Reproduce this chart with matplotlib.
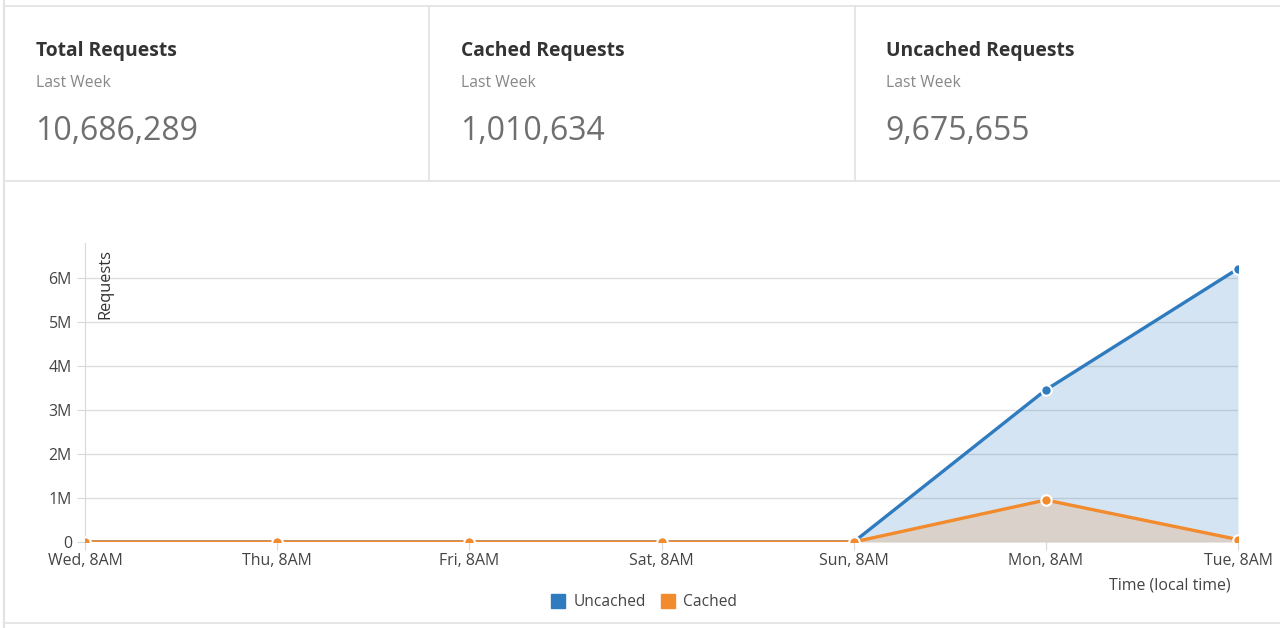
import matplotlib.pyplot as plt
from matplotlib.lines import Line2D
from matplotlib.ticker import FuncFormatter

plt.rcParams['font.family'] = ['Open Sans', 'DejaVu Sans']

# --- data ---
days = ['Wed, 8AM', 'Thu, 8AM', 'Fri, 8AM', 'Sat, 8AM', 'Sun, 8AM', 'Mon, 8AM', 'Tue, 8AM']
uncached = [0, 0, 0, 0, 0, 3460000, 6215000]
cached = [0, 0, 0, 0, 0, 955000, 56000]

card_titles = ['Total Requests', 'Cached Requests', 'Uncached Requests']
card_values = ['10,686,289', '1,010,634', '9,675,655']

blue = '#2f7bbf'
orange = '#f28a2e'
W, H = 1280, 628

fig = plt.figure(figsize=(12.8, 6.28), dpi=100)

def px(x, y):
    return x / W, 1 - y / H

# --- header cards ---
border = '#e2e2e2'
for y in (6, 181, 623):
    fig.add_artist(Line2D([5 / W, 1], [1 - y / H] * 2, color=border, lw=1.2))
fig.add_artist(Line2D([4 / W] * 2, [0, 1], color=border, lw=1.5))
for x in (429, 855):
    fig.add_artist(Line2D([x / W] * 2, [1 - 6 / H, 1 - 181 / H], color=border, lw=1.2))

for i, (t, v) in enumerate(zip(card_titles, card_values)):
    x0 = 36 + i * 425
    fig.text(*px(x0, 51), t, fontsize=13.9, fontweight='bold', color='#333333', va='center')
    fig.text(*px(x0, 83), 'Last Week', fontsize=11.3, color='#888888', va='center')
    fig.text(*px(x0 - 1, 131), v, fontsize=23, color='#6f6f6f', va='center')

# --- chart ---
ax = fig.add_axes([85 / W, 86 / H, (1238 - 85) / W, (542 - 243) / H])
x = list(range(len(days)))

ax.fill_between(x, uncached, color=blue, alpha=0.2, lw=0)
ax.fill_between(x, cached, color=orange, alpha=0.2, lw=0)
ax.plot(x, uncached, color=blue, lw=2.4, marker='o', ms=7.5, mfc=blue, mec='white', mew=1.5,
        label='Uncached', zorder=3)
ax.plot(x, cached, color=orange, lw=2.4, marker='o', ms=7.5, mfc=orange, mec='white', mew=1.5,
        label='Cached', zorder=4)

ax.set_xlim(0, len(days) - 1)
ax.set_ylim(0, 6.8e6)
ax.set_yticks([0, 1e6, 2e6, 3e6, 4e6, 5e6, 6e6])
ax.yaxis.set_major_formatter(FuncFormatter(lambda v, p: '0' if v == 0 else f'{int(v / 1e6)}M'))
ax.set_xticks(x)
ax.set_xticklabels(days)

ax.grid(axis='y', color='#dddddd', lw=1)
ax.set_axisbelow(True)
for s in ('top', 'right', 'bottom'):
    ax.spines[s].set_visible(False)
ax.spines['left'].set_color('#d8d8d8')
ax.tick_params(axis='both', colors='#d8d8d8', labelcolor='#444444', labelsize=11.4, length=6)
ax.tick_params(axis='x', pad=2)

ax.text(0.011, 0.98, 'Requests', transform=ax.transAxes, rotation=90, va='top', ha='left',
        fontsize=11.8, color='#333333')
fig.text(*px(1170, 585), 'Time (local time)', fontsize=11.4, color='#444444', ha='center', va='center')

handles = [Line2D([], [], marker='s', ls='', color=c, ms=9.5) for c in (blue, orange)]
fig.legend(handles, ['Uncached', 'Cached'], loc='center', bbox_to_anchor=px(640, 602), ncol=2,
           frameon=False, fontsize=11.2, handletextpad=0.0, columnspacing=0.4, labelcolor='#444444')

fig.savefig('out.png', dpi=100)
